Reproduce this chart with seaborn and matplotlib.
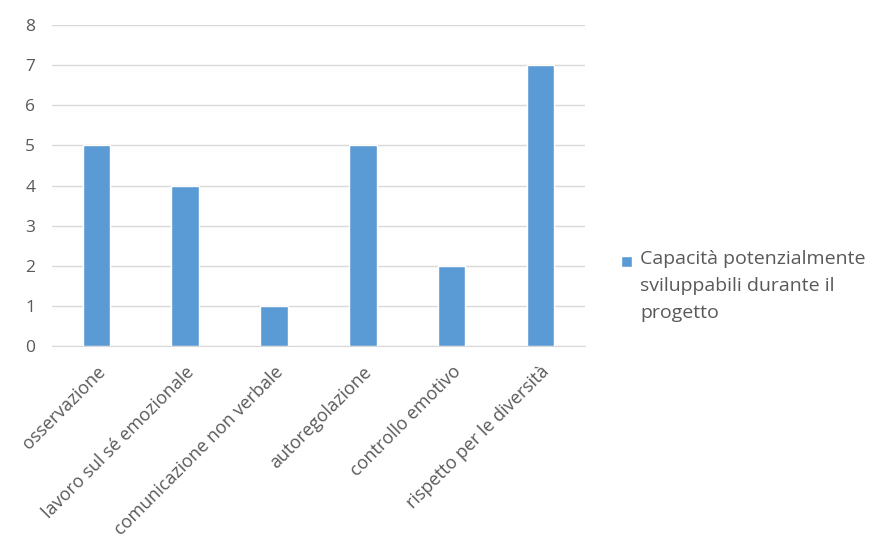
import seaborn as sns
import matplotlib.pyplot as plt
import pandas as pd
from matplotlib.patches import Rectangle
from matplotlib.legend_handler import HandlerPatch

# Données
categories = ['osservazione', 'lavoro sul sé emozionale', 'comunicazione non verbale',
              'autoregolazione', 'controllo emotivo', 'rispetto per le diversità']
valori = [5, 4, 1, 5, 2, 7]
serie = 'Capacità potenzialmente\nsviluppabili durante il\nprogetto'

df = pd.DataFrame({'Capacità': categories, 'Valore': valori, 'Serie': serie})

sns.set_style('white')
plt.rcParams['font.family'] = ['Open Sans', 'DejaVu Sans']

fig = plt.figure(figsize=(8.72, 5.52), dpi=100)
ax = fig.add_axes([0.0596, 0.373, 0.611, 0.5815])

sns.barplot(data=df, x='Capacità', y='Valore', hue='Serie', palette=['#5B9BD5'],
            saturation=1, width=0.31, ax=ax, zorder=3)

ax.set_ylim(0, 8)
ax.set_yticks(range(0, 9))
ax.yaxis.grid(True, color='#D9D9D9', linewidth=1, zorder=0)
ax.set_axisbelow(True)
sns.despine(left=True, top=True, right=True, bottom=False)
ax.spines['bottom'].set_color('#D9D9D9')
ax.set_xlabel('')
ax.set_ylabel('')
ax.tick_params(axis='both', length=0, colors='#595959')
ax.tick_params(axis='y', pad=12, labelsize=12.5)
ax.tick_params(axis='x', pad=12, labelsize=13)
plt.setp(ax.get_xticklabels(), rotation=45, ha='right', rotation_mode='anchor')


# carré de légende aligné sur la première ligne
def carre_haut(legend, orig_handle, xdescent, ydescent, width, height, fontsize):
    s = 0.55 * fontsize
    return Rectangle((-xdescent, height - ydescent - s + 0.45 * fontsize), s, s)


ax.legend_.remove()
leg = fig.legend(*ax.get_legend_handles_labels(), loc='center left',
                 bbox_to_anchor=(0.692, 0.482), frameon=False, fontsize=14,
                 handlelength=0.55, handleheight=3.2, handletextpad=0.45,
                 handler_map={Rectangle: HandlerPatch(patch_func=carre_haut)})
for t in leg.get_texts():
    t.set_color('#595959')
    t.set_linespacing(1.62)

fig.savefig('out.png', dpi=100)
